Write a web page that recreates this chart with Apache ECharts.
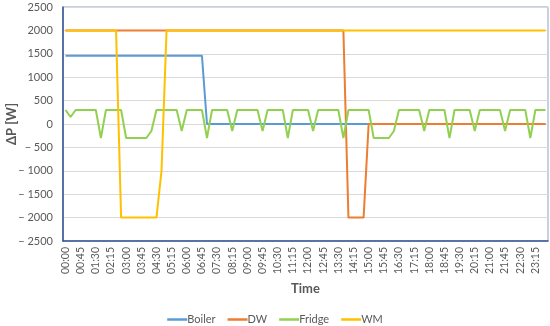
<!DOCTYPE html>
<html>
<head>
<meta charset="utf-8">
<script src="https://cdn.jsdelivr.net/npm/echarts@6/dist/echarts.min.js"></script>
<style>html,body{margin:0;padding:0;background:#fff}#c{width:550px;height:326px}</style>
</head>
<body>
<div id="c"></div>
<script>
const times = [
'00:00','00:15','00:30','00:45','01:00','01:15','01:30','01:45','02:00','02:15','02:30','02:45',
'03:00','03:15','03:30','03:45','04:00','04:15','04:30','04:45','05:00','05:15','05:30','05:45',
'06:00','06:15','06:30','06:45','07:00','07:15','07:30','07:45','08:00','08:15','08:30','08:45',
'09:00','09:15','09:30','09:45','10:00','10:15','10:30','10:45','11:00','11:15','11:30','11:45',
'12:00','12:15','12:30','12:45','13:00','13:15','13:30','13:45','14:00','14:15','14:30','14:45',
'15:00','15:15','15:30','15:45','16:00','16:15','16:30','16:45','17:00','17:15','17:30','17:45',
'18:00','18:15','18:30','18:45','19:00','19:15','19:30','19:45','20:00','20:15','20:30','20:45',
'21:00','21:15','21:30','21:45','22:00','22:15','22:30','22:45','23:00','23:15','23:30','23:45'];

const boiler = [
1460,1460,1460,1460,1460,1460,1460,1460,1460,1460,1460,1460,
1460,1460,1460,1460,1460,1460,1460,1460,1460,1460,1460,1460,
1460,1460,1460,1460,0,0,0,0,0,0,0,0,
0,0,0,0,0,0,0,0,0,0,0,0,
0,0,0,0,0,0,0,0,0,0,0,0,
0,0,0,0,0,0,0,0,0,0,0,0,
0,0,0,0,0,0,0,0,0,0,0,0,
0,0,0,0,0,0,0,0,0,0,0,0];

const dw = [
2000,2000,2000,2000,2000,2000,2000,2000,2000,2000,2000,2000,
2000,2000,2000,2000,2000,2000,2000,2000,2000,2000,2000,2000,
2000,2000,2000,2000,2000,2000,2000,2000,2000,2000,2000,2000,
2000,2000,2000,2000,2000,2000,2000,2000,2000,2000,2000,2000,
2000,2000,2000,2000,2000,2000,2000,2000,-2000,-2000,-2000,-2000,
0,0,0,0,0,0,0,0,0,0,0,0,
0,0,0,0,0,0,0,0,0,0,0,0,
0,0,0,0,0,0,0,0,0,0,0,0];

const fridge = [
300,150,300,300,300,300,300,-300,300,300,300,300,
-300,-300,-300,-300,-300,-150,300,300,300,300,300,-150,
300,300,300,300,-300,300,300,300,300,-150,300,300,
300,300,300,-150,300,300,300,300,-300,300,300,300,
300,-150,300,300,300,300,300,-300,300,300,300,300,
300,-300,-300,-300,-300,-150,300,300,300,300,300,-150,
300,300,300,300,-300,300,300,300,300,-150,300,300,
300,300,300,-150,300,300,300,300,-300,300,300,300];

const wm = [
2000,2000,2000,2000,2000,2000,2000,2000,2000,2000,2000,-2000,
-2000,-2000,-2000,-2000,-2000,-2000,-2000,-1000,2000,2000,2000,2000,
2000,2000,2000,2000,2000,2000,2000,2000,2000,2000,2000,2000,
2000,2000,2000,2000,2000,2000,2000,2000,2000,2000,2000,2000,
2000,2000,2000,2000,2000,2000,2000,2000,2000,2000,2000,2000,
2000,2000,2000,2000,2000,2000,2000,2000,2000,2000,2000,2000,
2000,2000,2000,2000,2000,2000,2000,2000,2000,2000,2000,2000,
2000,2000,2000,2000,2000,2000,2000,2000,2000,2000,2000,2000];

const seriesNames = ['Boiler','DW','Fridge','WM'];
const seriesData = [boiler, dw, fridge, wm];
const colors = ['#5B9BD5','#ED7D31','#92D050','#FFC000'];
const yTitle = 'ΔP [W]';
const xTitle = 'Time';

const FONT = 'Lato, "Open Sans", sans-serif';
const chart = echarts.init(document.getElementById('c'), null, {renderer:'canvas'});
chart.setOption({
  animation: false,
  color: colors,
  textStyle: {fontFamily: FONT},
  grid: {left: 63, right: 2, top: 7, bottom: 85, show: true, borderColor: '#8FA0BE', borderWidth: 1,
         containLabel: false, outerBoundsMode: 'none'},
  graphic: [{
    type: 'text', x: 12, y: 124, rotation: Math.PI / 2,
    style: {text: yTitle, fill: '#595959', font: 'bold 13px ' + FONT, align: 'center', verticalAlign: 'middle'}
  }],
  legend: {
    data: seriesNames,
    top: 309, left: 'center',
    icon: 'rect', itemWidth: 20, itemHeight: 2.5, itemGap: 12,
    textStyle: {fontSize: 11, color: '#595959', fontFamily: FONT, padding: [0,0,0,-5]}
  },
  xAxis: {
    type: 'category', data: times, boundaryGap: true,
    name: xTitle, nameLocation: 'middle', nameGap: 40,
    nameTextStyle: {fontSize: 13, fontWeight: 'bold', color: '#595959', fontFamily: FONT},
    axisLine: {onZero: false, lineStyle: {color: '#2F5597', width: 1.5}},
    axisTick: {show: false},
    axisLabel: {interval: 2, rotate: 90, fontSize: 10.5, color: '#595959', margin: 6, fontFamily: FONT},
    splitLine: {show: false}
  },
  yAxis: {
    type: 'value', min: -2500, max: 2500, interval: 500,
    axisLine: {show: true, lineStyle: {color: '#2F5597', width: 1.5}},
    axisTick: {show: false},
    axisLabel: {fontSize: 11, color: '#595959', margin: 10, fontFamily: FONT,
      formatter: v => v < 0 ? '\u2212 ' + Math.abs(v) : String(v)},
    splitLine: {lineStyle: {color: '#D9D9D9', width: 1}}
  },
  series: seriesNames.map((n, i) => ({
    name: n, type: 'line', data: seriesData[i], symbol: 'none', showSymbol: false,
    lineStyle: {width: 2, color: colors[i]}, itemStyle: {color: colors[i]}
  }))
});
</script>
</body>
</html>
